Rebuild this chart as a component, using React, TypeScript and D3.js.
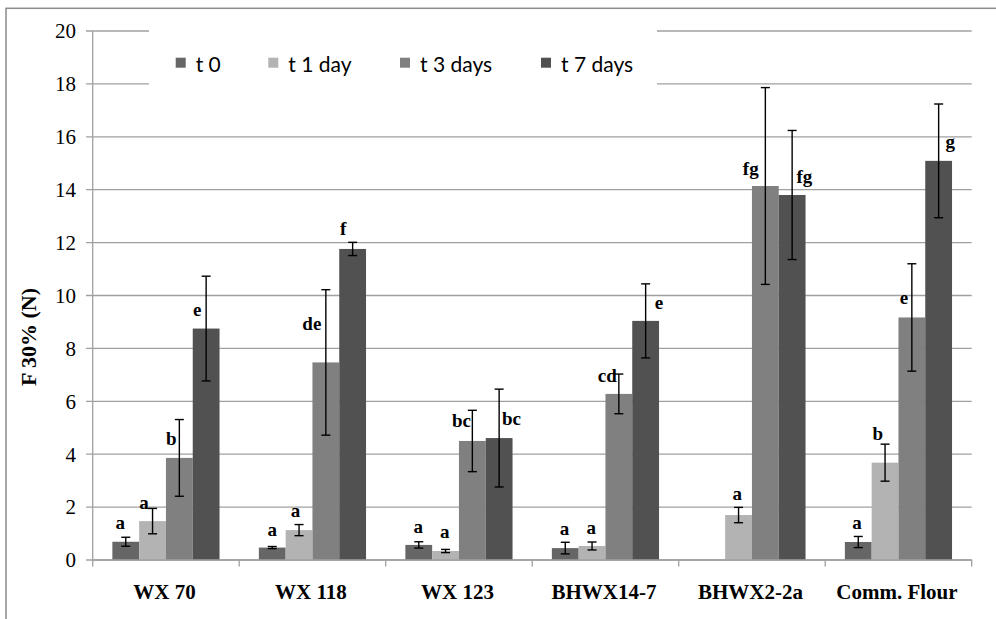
import React from "react";
import * as d3 from "d3";

const categories = ["WX 70", "WX 118", "WX 123", "BHWX14-7", "BHWX2-2a", "Comm. Flour"];
const seriesNames = ["t 0", "t 1 day", "t 3 days", "t 7 days"];

const t0 = [0.69, 0.47, 0.57, 0.45, null, 0.68];
const t1 = [1.47, 1.13, 0.34, 0.53, 1.7, 3.68];
const t3 = [3.86, 7.47, 4.5, 6.28, 14.14, 9.17];
const t7 = [8.75, 11.76, 4.61, 9.04, 13.8, 15.09];

const t0Err = [0.17, 0.04, 0.12, 0.22, null, 0.21];
const t1Err = [0.48, 0.21, 0.06, 0.15, 0.29, 0.7];
const t3Err = [1.45, 2.75, 1.16, 0.75, 3.72, 2.03];
const t7Err = [1.98, 0.25, 1.85, 1.4, 2.44, 2.15];

const t0Letters = ["a", "a", "a", "a", null, "a"];
const t1Letters = ["a", "a", "a", "a", "a", "b"];
const t3Letters = ["b", "de", "bc", "cd", "fg", "e"];
const t7Letters = ["e", "f", "bc", "e", "fg", "g"];

const yTicks = [0, 2, 4, 6, 8, 10, 12, 14, 16, 18, 20];
const yTitle = "F 30% (N)";

// layout: label nudges (px) relative to bar centre / bar top
const labelDx = [
  [-5.5, 0, -0.5, -0.8, 0, -1.2],
  [-8.5, -3.5, -0.7, -0.9, -1.3, -7.3],
  [-8, -14, -10.8, -11.6, -14.6, -8],
  [-9, -9.4, 12.4, 13.3, 12.3, 11.6],
];
const labelDy = [
  [12.7, 11.7, 12.3, 13, 0, 12.7],
  [12, 13.3, 13.3, 11.7, 15, 22.7],
  [13, 32, 13.7, 12.3, 11, 13],
  [13, 14, 13, 11.7, 11.7, 13.3],
];

const colors = ["#666666", "#b3b3b3", "#808080", "#515151"];

const W = 996;
const H = 619;
const left = 92.7;
const right = 971.7;
const top = 31;
const bottom = 560;

export default function App() {
  const values = [t0, t1, t3, t7];
  const errs = [t0Err, t1Err, t3Err, t7Err];
  const letters = [t0Letters, t1Letters, t3Letters, t7Letters];

  const x0 = d3.scaleBand<string>().domain(categories).range([left, right]).paddingInner(0).paddingOuter(0);
  const x1 = d3
    .scaleBand<string>()
    .domain(seriesNames)
    .range([0, x0.bandwidth()])
    .paddingInner(0)
    .paddingOuter(0.734);
  const y = d3.scaleLinear().domain([0, 20]).range([bottom, top]);

  const serif = '"Liberation Serif"';
  const sans = '"Lato"';
  const grid = "#a0a0a0";

  const legendX = [175.7, 268.3, 400, 541];

  return (
    <svg
      width={W}
      height={H}
      style={{ position: "absolute", left: 0, top: 0, display: "block", background: "#fff" }}
    >
      <rect x={0} y={0} width={W} height={H} fill="#fff" />
      <rect x={6} y={8.3} width={1100} height={800} fill="none" stroke="#8a8a8a" strokeWidth={1.5} />

      {/* gridlines + y ticks */}
      {yTicks.map((t) => (
        <line key={"g" + t} x1={86} x2={right} y1={y(t)} y2={y(t)} stroke={grid} strokeWidth={1.3} />
      ))}
      {yTicks.map((t) => (
        <text
          key={"yl" + t}
          x={76}
          y={y(t)}
          dy="0.35em"
          textAnchor="end"
          style={{ fontFamily: serif, fontSize: "21px" }}
          fill="#000"
        >
          {t}
        </text>
      ))}

      {/* legend box */}
      <rect x={149} y={20} width={508} height={85} fill="#fff" />
      {seriesNames.map((s, i) => (
        <g key={"lg" + s}>
          <rect x={legendX[i]} y={57.7} width={10} height={10} fill={colors[i]} />
          <text x={legendX[i] + 20} y={72} style={{ fontFamily: sans, fontSize: "21px" }} fill="#000">
            {s}
          </text>
        </g>
      ))}

      {/* y axis */}
      <line x1={left} x2={left} y1={top} y2={bottom} stroke={grid} strokeWidth={1.3} />

      {/* bars */}
      {values.map((arr, si) =>
        arr.map((v, ci) =>
          v == null ? null : (
            <rect
              key={`b${si}-${ci}`}
              x={(x0(categories[ci]) as number) + (x1(seriesNames[si]) as number)}
              y={y(v)}
              width={x1.bandwidth()}
              height={y(0) - y(v)}
              fill={colors[si]}
            />
          )
        )
      )}

      {/* x axis */}
      <line x1={left} x2={right} y1={bottom} y2={bottom} stroke={grid} strokeWidth={1.3} />
      {categories.map((c) => (
        <line
          key={"xt" + c}
          x1={(x0(c) as number) + x0.bandwidth()}
          x2={(x0(c) as number) + x0.bandwidth()}
          y1={bottom}
          y2={bottom + 6.5}
          stroke={grid}
          strokeWidth={1.3}
        />
      ))}
      <line x1={left} x2={left} y1={bottom} y2={bottom + 6.5} stroke={grid} strokeWidth={1.3} />
      {categories.map((c) => (
        <text
          key={"xl" + c}
          x={(x0(c) as number) + x0.bandwidth() / 2 - 1.5}
          y={599}
          textAnchor="middle"
          style={{ fontFamily: serif, fontSize: "21px", fontWeight: 700 }}
          fill="#000"
        >
          {c}
        </text>
      ))}

      {/* error bars */}
      {values.map((arr, si) =>
        arr.map((v, ci) => {
          const e = errs[si][ci];
          if (v == null || e == null) return null;
          const cx = (x0(categories[ci]) as number) + (x1(seriesNames[si]) as number) + x1.bandwidth() / 2;
          const yt = y(v + e);
          const yb = y(v - e);
          return (
            <g key={`e${si}-${ci}`} stroke="#000" strokeWidth={1.4}>
              <line x1={cx} x2={cx} y1={yt} y2={yb} />
              <line x1={cx - 4.5} x2={cx + 4.5} y1={yt} y2={yt} />
              <line x1={cx - 4.5} x2={cx + 4.5} y1={yb} y2={yb} />
            </g>
          );
        })
      )}

      {/* letters */}
      {values.map((arr, si) =>
        arr.map((v, ci) => {
          const l = letters[si][ci];
          if (v == null || l == null) return null;
          const cx = (x0(categories[ci]) as number) + (x1(seriesNames[si]) as number) + x1.bandwidth() / 2;
          return (
            <text
              key={`l${si}-${ci}`}
              x={cx + labelDx[si][ci]}
              y={y(v) - labelDy[si][ci]}
              textAnchor="middle"
              style={{ fontFamily: serif, fontSize: "19px", fontWeight: 700 }}
              fill="#000"
            >
              {l}
            </text>
          );
        })
      )}

      {/* y title */}
      <text
        transform={`translate(36,337) rotate(-90)`}
        textAnchor="middle"
        style={{ fontFamily: serif, fontSize: "22px", fontWeight: 700 }}
        fill="#000"
      >
        {yTitle}
      </text>
    </svg>
  );
}
